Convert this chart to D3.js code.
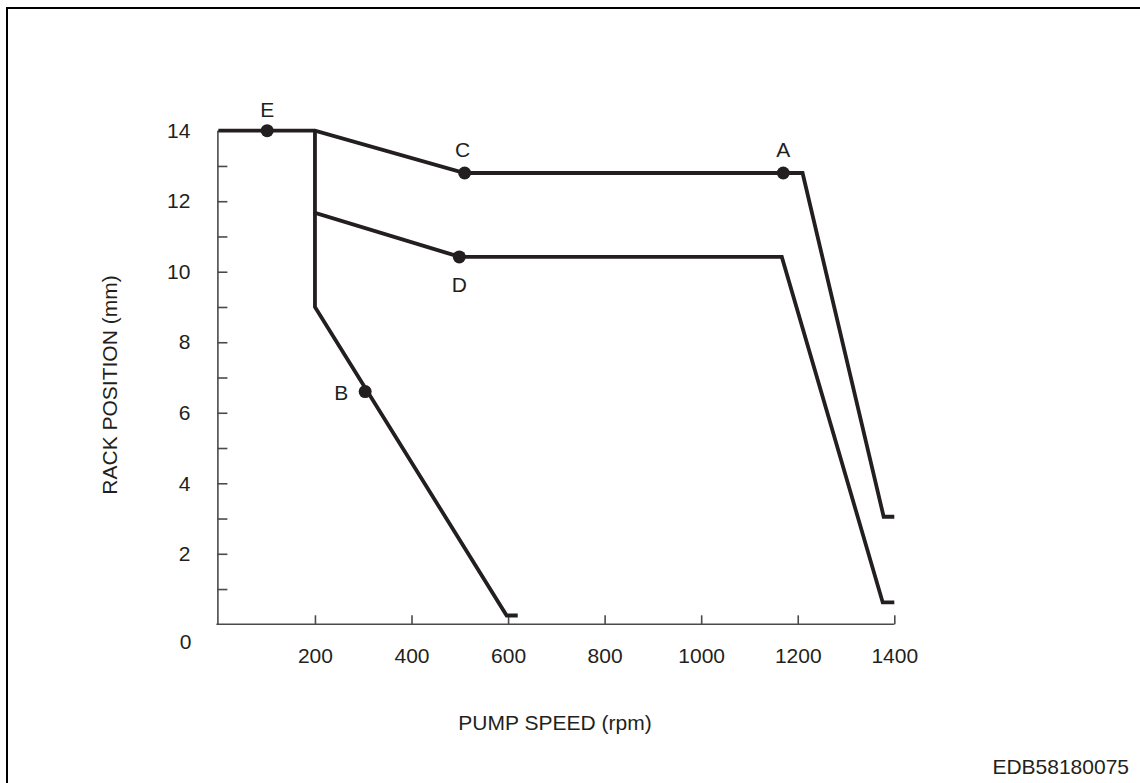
<!DOCTYPE html>
<html>
<head>
<meta charset="utf-8">
<script src="https://cdn.jsdelivr.net/npm/d3@7"></script>
<style>
  html, body { margin: 0; padding: 0; background: #fff; }
  svg { display: block; }
  text { font-family: "Liberation Sans", Arial, sans-serif; fill: #231f20; }
</style>
</head>
<body>
<svg id="chart" width="1140" height="783"></svg>
<script>
// ---- data ----
const upperCurveSpeed = [0, 200, 510, 1210, 1378, 1400];
const upperCurveRack  = [14, 14, 12.8, 12.8, 3.05, 3.05];
const middleCurveSpeed = [200, 200, 500, 1167, 1376, 1400];
const middleCurveRack  = [14, 11.67, 10.42, 10.42, 0.62, 0.62];
const lowerCurveSpeed = [200, 200, 597, 620];
const lowerCurveRack  = [11.67, 9, 0.25, 0.25];
const pointLabels = ["A", "B", "C", "D", "E"];
const pointSpeed  = [1170, 304, 510, 499, 101];
const pointRack   = [12.8, 6.6, 12.8, 10.42, 14];
const xTickValues = [200, 400, 600, 800, 1000, 1200, 1400];
const yTickValues = [0, 1, 2, 3, 4, 5, 6, 7, 8, 9, 10, 11, 12, 13, 14];
const xTitle = "PUMP SPEED (rpm)";
const yTitle = "RACK POSITION (mm)";
const figureCode = "EDB58180075";

// ---- drawing ----
const svg = d3.select("#chart");
const ink = "#231f20";
const axisInk = "#4a4a4a";
const fs = 21;

// frame
svg.append("rect")
  .attr("x", 7).attr("y", 8).attr("width", 1150).attr("height", 800)
  .attr("fill", "none").attr("stroke", "#000").attr("stroke-width", 2);

const x = d3.scaleLinear().domain([0, 1400]).range([218.4, 894.3]);
const y = d3.scaleLinear().domain([0, 14]).range([624.3, 130.7]);

// y axis
const yAxis = svg.append("g")
  .attr("transform", `translate(${x(0) - 1},0)`)
  .call(d3.axisLeft(y)
    .tickValues(yTickValues)
    .tickSizeInner(-10)
    .tickSizeOuter(0)
    .tickPadding(27)
    .tickFormat(d => d % 2 === 0 ? d3.format("d")(d) : ""));
yAxis.selectAll("path, line").attr("stroke", axisInk).attr("stroke-width", 1.6);
yAxis.selectAll("text").attr("font-size", fs).attr("fill", ink)
  .attr("font-family", "Liberation Sans, Arial, sans-serif");
yAxis.selectAll(".tick").filter(d => d === 0).select("line").remove();
yAxis.selectAll(".tick").filter(d => d === 0).select("text")
  .attr("x", -26).attr("dy", "1.15em");

// x axis
const xAxis = svg.append("g")
  .attr("transform", `translate(0,${y(0)})`)
  .call(d3.axisBottom(x)
    .tickValues(xTickValues)
    .tickSizeInner(-9)
    .tickSizeOuter(0)
    .tickPadding(24)
    .tickFormat(d3.format("d")));
xAxis.select(".domain").attr("d", `M${x(0) - 2},0H${x(1400)}`);
xAxis.selectAll("path, line").attr("stroke", axisInk).attr("stroke-width", 1.6);
xAxis.selectAll("text").attr("font-size", fs).attr("fill", ink)
  .attr("font-family", "Liberation Sans, Arial, sans-serif");

// curves
const line = d3.line().x(d => x(d[0])).y(d => y(d[1]));
function drawCurve(speeds, racks) {
  svg.append("path")
    .datum(d3.zip(speeds, racks))
    .attr("d", line)
    .attr("fill", "none")
    .attr("stroke", ink)
    .attr("stroke-width", 3.8)
    .attr("stroke-linejoin", "miter");
}
drawCurve(upperCurveSpeed, upperCurveRack);
drawCurve(middleCurveSpeed, middleCurveRack);
drawCurve(lowerCurveSpeed, lowerCurveRack);

// points
const labelOffset = { A: [0, -16], B: [-24, 8], C: [-2, -16], D: [0, 35], E: [0, -14] };
pointLabels.forEach((lab, i) => {
  const px = x(pointSpeed[i]), py = y(pointRack[i]);
  svg.append("circle").attr("cx", px).attr("cy", py).attr("r", 6.5).attr("fill", ink);
  svg.append("text")
    .attr("x", px + labelOffset[lab][0])
    .attr("y", py + labelOffset[lab][1])
    .attr("text-anchor", "middle")
    .attr("font-size", fs)
    .text(lab);
});

// titles
svg.append("text")
  .attr("transform", `translate(117,385) rotate(-90)`)
  .attr("text-anchor", "middle")
  .attr("font-size", fs)
  .text(yTitle);
svg.append("text")
  .attr("x", 555).attr("y", 730)
  .attr("text-anchor", "middle")
  .attr("font-size", fs)
  .text(xTitle);
svg.append("text")
  .attr("x", 1129).attr("y", 774)
  .attr("text-anchor", "end")
  .attr("font-size", fs)
  .text(figureCode);
</script>
</body>
</html>
